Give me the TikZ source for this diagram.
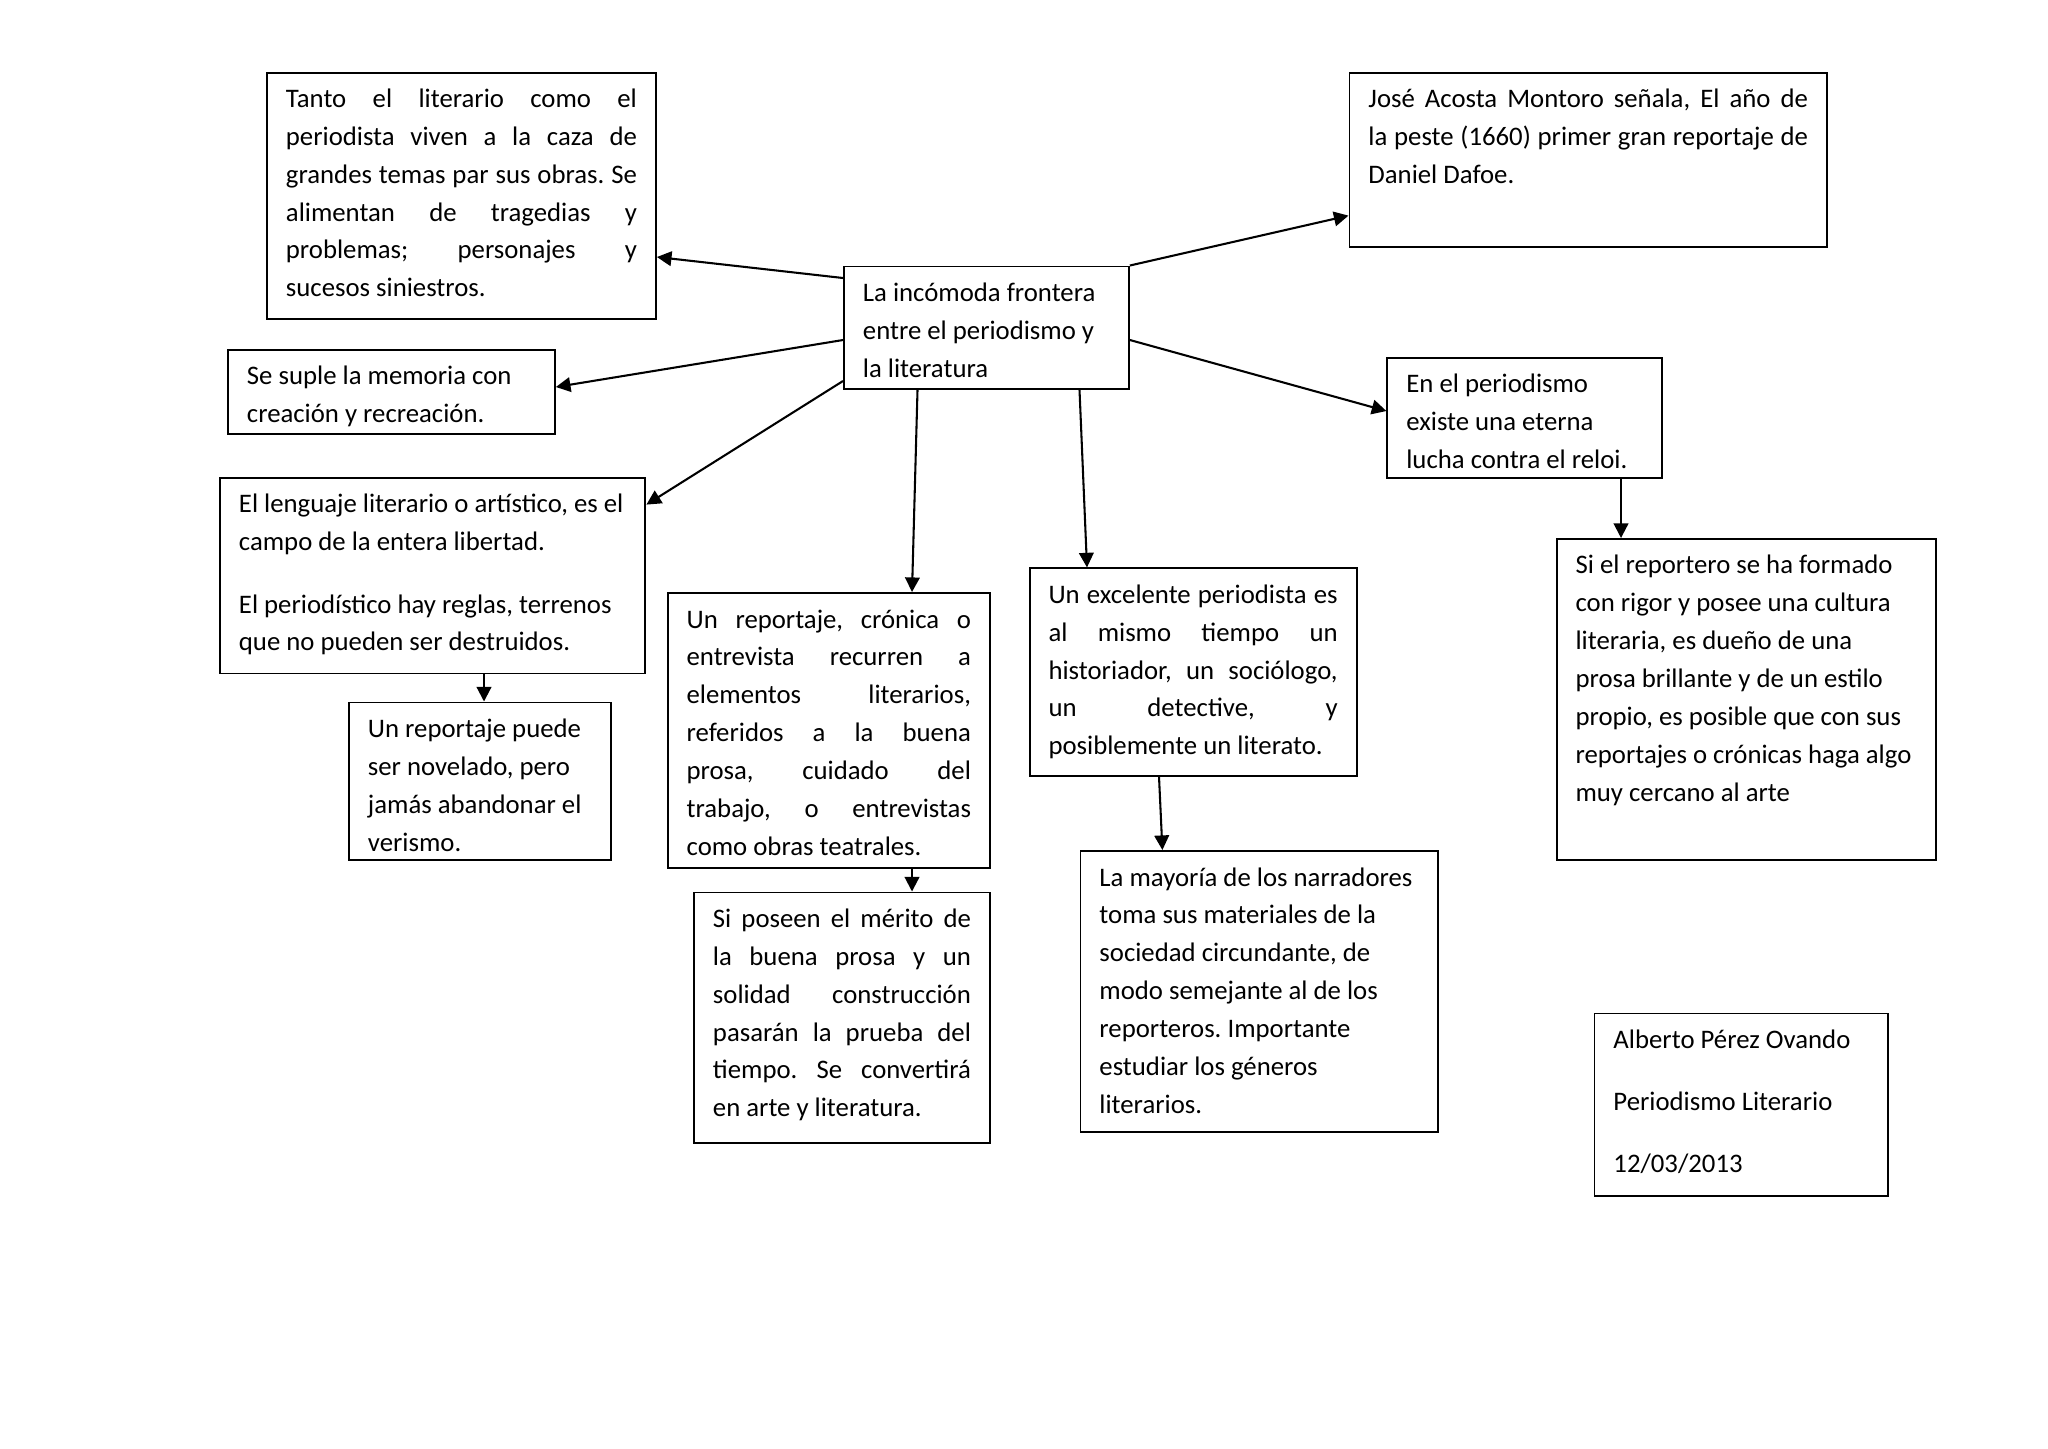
\documentclass[tikz,border=0pt]{standalone}
\usepackage{fontspec}
\setmainfont{Carlito}
\usetikzlibrary{arrows.meta}
\newdimen\uu \uu=0.41113pt
\hbadness=10000
\hfuzz=4pt
\tikzset{
  box/.style={draw, line width=0.8pt, inner xsep=7.8pt, inner ysep=0pt},
  arr/.style={-{Triangle[length=6pt,width=6pt]}, line width=0.85pt}
}
\newcommand\bx[7]{\node[box, anchor=north west] (#1) at (#2,#3) {\begin{minipage}[c][\dimexpr #5\uu-#3\uu\relax][t]{\dimexpr #4\uu-#2\uu-38\uu\relax}\fontsize{11}{15.56}\selectfont\frenchspacing\tolerance=10000 \pretolerance=-1 \hyphenpenalty=10000 \exhyphenpenalty=10000 \setlength\parskip{10pt}\vspace*{3.5pt}#6\strut #7\end{minipage}};}
\begin{document}
\begin{tikzpicture}[x=0.41113pt, y=-0.41113pt]
\useasboundingbox[fill=white] (0,0) rectangle (2048,1448);

\bx{tanto}{266}{71.6}{655}{318}{}{Tanto el literario como el\linebreak periodista viven a la caza de\linebreak grandes temas par sus obras. Se\linebreak alimentan de tragedias y\linebreak problemas; personajes y\linebreak sucesos siniestros.}
\bx{central}{843}{265.5}{1128}{388}{\raggedright}{La incómoda frontera\\ entre el periodismo y\\ la literatura}
\bx{jose}{1348.5}{71.6}{1826}{246}{}{José Acosta Montoro señala, El año de\linebreak la peste (1660) primer gran reportaje de\linebreak Daniel Dafoe.}
\bx{suple}{227}{348.6}{554}{433}{\raggedright}{Se suple la memoria con\\ creación y recreación.}
\bx{lenguaje}{219}{477}{644.5}{672.5}{\raggedright}{El lenguaje literario o artístico, es el\\ campo de la entera libertad.\par El periodístico hay reglas, terrenos\\ que no pueden ser destruidos.}
\bx{puede}{348}{701.5}{610}{859}{\raggedright}{Un reportaje puede\\ ser novelado, pero\\ jamás abandonar el\\ verismo.}
\bx{reportaje}{666.7}{592}{989}{867}{}{Un reportaje, crónica o\linebreak entrevista recurren a\linebreak elementos literarios,\linebreak referidos a la buena\linebreak prosa, cuidado del\linebreak trabajo, o entrevistas\linebreak como obras teatrales.}
\bx{poseen}{693}{891.5}{989}{1142}{}{Si poseen el mérito de\linebreak la buena prosa y un\linebreak solidad construcción\linebreak pasarán la prueba del\linebreak tiempo. Se convertirá\linebreak en arte y literatura.}
\bx{excelente}{1028.6}{567.4}{1355.7}{774.7}{}{Un excelente periodista es\linebreak al mismo tiempo un\linebreak historiador, un sociólogo,\linebreak un detective, y\linebreak posiblemente un literato.}
\bx{mayoria}{1079.5}{850}{1437.4}{1130.7}{\raggedright}{La mayoría de los narradores\\ toma sus materiales de la\\ sociedad circundante, de\\ modo semejante al de los\\ reporteros. Importante\\ estudiar los géneros\\ literarios.}
\bx{periodismo}{1386.4}{357}{1660.7}{477}{\raggedright}{En el periodismo\\ existe una eterna\\ lucha contra el reloi.}
\bx{reportero}{1555.6}{538}{1935}{859}{\raggedright}{Si el reportero se ha formado\\ con rigor y posee una cultura\\ literaria, es dueño de una\\ prosa brillante y de un estilo\\ propio, es posible que con sus\\ reportajes o crónicas haga algo\\ muy cercano al arte}
\bx{alberto}{1593.5}{1012.5}{1886.7}{1195}{\raggedright}{Alberto Pérez Ovando\par Periodismo Literario\par 12/03/2013}

\draw[arr] (central.west |- 0,278) -- (tanto.east |- 0,257);
\draw[arr] (central.west |- 0,340) -- (suple.east |- 0,387);
\draw[arr] (central.west |- 0,381) -- (lenguaje.east |- 0,504.6);
\draw[arr] (central.south -| 917.5,0) -- (reportaje.north -| 912,0);
\draw[arr] (central.south -| 1079.5,0) -- (excelente.north -| 1087,0);
\draw[arr] (central.north east) -- (jose.west |- 0,215.6);
\draw[arr] (central.east |- 0,340) -- (periodismo.west |- 0,411);
\draw[arr] (lenguaje.south -| 484,0) -- (puede.north -| 484,0);
\draw[arr] (reportaje.south -| 912,0) -- (poseen.north -| 912,0);
\draw[arr] (excelente.south -| 1159,0) -- (mayoria.north -| 1162.4,0);
\draw[arr] (periodismo.south -| 1621,0) -- (reportero.north -| 1621,0);
\end{tikzpicture}
\end{document}
